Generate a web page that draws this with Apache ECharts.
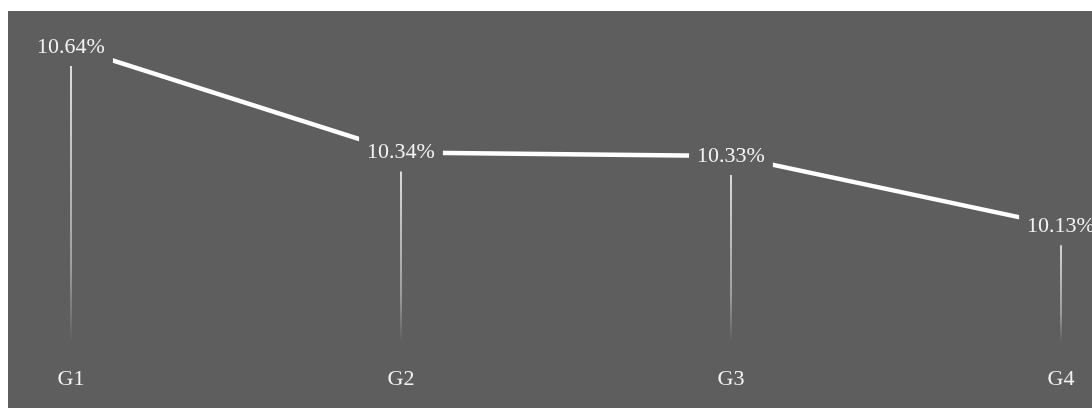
<!DOCTYPE html>
<html>
<head>
<meta charset="utf-8">
<script src="https://cdn.jsdelivr.net/npm/echarts@6/dist/echarts.min.js"></script>
<style>
html,body{margin:0;padding:0;background:#ffffff;overflow:hidden;}
#chart{position:absolute;left:8px;top:11px;width:1084px;height:397px;background:#5e5e5e;}
</style>
</head>
<body>
<div id="chart"></div>
<script>
var categories = ['G1', 'G2', 'G3', 'G4'];
var values = [10.64, 10.34, 10.33, 10.13];
var labels = ['10.64%', '10.34%', '10.33%', '10.13%'];

var chart = echarts.init(document.getElementById('chart'));
var font = '"Liberation Serif", "Times New Roman", serif';
chart.setOption({
  backgroundColor: '#5e5e5e',
  animation: false,
  grid: {left: 63, right: 31, top: 15, bottom: 66, containLabel: false},
  xAxis: {
    type: 'category',
    data: categories,
    boundaryGap: false,
    axisLine: {show: false},
    axisTick: {show: false},
    splitLine: {show: false},
    axisLabel: {color: '#f2f2f2', fontFamily: font, fontSize: 22, margin: 26}
  },
  yAxis: {
    type: 'value',
    min: 9.8,
    max: 10.7,
    show: false
  },
  series: [
    {
      type: 'bar',
      data: values,
      barWidth: 2,
      z: 1,
      itemStyle: {
        color: new echarts.graphic.LinearGradient(0, 0, 0, 1, [
          {offset: 0, color: 'rgba(235,235,235,0.95)'},
          {offset: 0.75, color: 'rgba(235,235,235,0.45)'},
          {offset: 1, color: 'rgba(235,235,235,0)'}
        ])
      }
    },
    {
      type: 'line',
      data: values,
      z: 3,
      symbol: 'circle',
      symbolSize: 1,
      itemStyle: {color: '#ffffff'},
      lineStyle: {color: '#ffffff', width: 4.5},
      label: {
        show: true,
        position: 'inside',
        formatter: function (p) { return labels[p.dataIndex]; },
        color: '#f2f2f2',
        fontFamily: font,
        fontSize: 22,
        backgroundColor: '#5e5e5e',
        padding: [8, 8]
      }
    }
  ]
});
</script>
</body>
</html>
